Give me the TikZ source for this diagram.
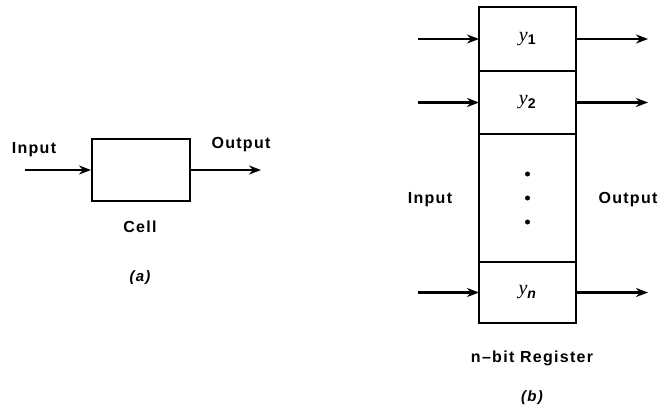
\documentclass[tikz,border=0pt]{standalone}
\usepackage{fontspec}
\setmainfont{Liberation Sans}
\newfontfamily\labelfont[LetterSpace=8]{Liberation Sans}
\newfontfamily\varfont{Liberation Serif}
\newcommand{\regvar}[1]{{\varfont\itshape y}\textsubscript{\bfseries #1}}
\usepackage{tikz}
\usetikzlibrary{positioning,arrows.meta,calc}

\begin{document}
\begin{tikzpicture}[x=1pt, y=-1pt,
   node distance=0pt,
   cellbox/.style={draw, line width=2pt, minimum width=98pt, minimum height=62pt,
                   inner sep=0pt, font=\fontsize{20}{22}\selectfont},
   regbox/.style={draw, line width=2pt, minimum width=97pt, inner sep=0pt,
                  outer sep=0pt, font=\fontsize{20}{22}\selectfont},
   lbl/.style={font=\fontsize{16}{18}\labelfont\bfseries, inner sep=0pt},
   tag/.style={font=\fontsize{15}{17}\labelfont\itshape\bfseries, inner sep=0pt},
   flow/.style={->, line width=2.6pt},
   >={Stealth[length=12pt, width=9pt]}]
  \useasboundingbox (0,0) rectangle (660,412);
  % (a) single cell
  \node[cellbox] (cell) at (141,170) {};
  \draw[flow] ($(cell.west)+(-66,0)$) -- (cell.west);
  \draw[flow] (cell.east) -- ($(cell.east)+(70,0)$);
  \node[lbl] (cellin) at (34,150) {Input};
  \node[lbl] (cellout) at (241,145) {Output};
  \node[lbl] (celltxt) at (140,227) {Cell};
  \node[tag] (taga) at (140,278) {(a)};
  % (b) n-bit register
  \node[regbox, minimum height=64pt] (y1) at (527.5,39) {\regvar{1}};
  \node[regbox, minimum height=63pt, below=of y1] (y2) {\regvar{2}};
  \node[regbox, minimum height=128pt, below=of y2] (dots) {};
  \node[regbox, minimum height=61pt, below=of dots] (yn) {\regvar{\itshape n}};
  \foreach \d in {-24,0,24}
    \fill ($(dots.center)+(0,\d)$) circle (2.5pt);
  \foreach \r in {y1,y2,yn} {
    \draw[flow] ($(\r.west)+(-61,0)$) -- (\r.west);
    \draw[flow] (\r.east) -- ($(\r.east)+(72,0)$);
  }
  \node[lbl] (regin) at (430,200) {Input};
  \node[lbl] (regout) at (628,200) {Output};
  \node[lbl] (regtxt) at (532,358) {n–bit Register};
  \node[tag] (tagb) at (532,398) {(b)};
\end{tikzpicture}
\end{document}
